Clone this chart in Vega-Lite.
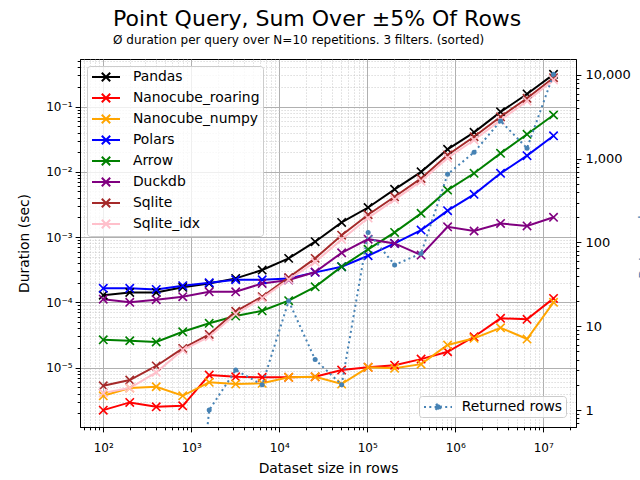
{
  "$schema": "https://vega.github.io/schema/vega-lite/v6.json",
  "autosize": {"type": "none"},
  "width": 496,
  "height": 368,
  "padding": {"left": 80, "top": 59, "right": 64, "bottom": 53},
  "background": "white",
  "title": {
    "text": "Point Query, Sum Over ±5% Of Rows",
    "subtitle": "Ø duration per query over N=10 repetitions. 3 filters. (sorted)",
    "anchor": "start",
    "frame": "group",
    "dx": 33,
    "offset": 8,
    "font": "DejaVu Sans",
    "subtitleFont": "DejaVu Sans",
    "fontSize": 22,
    "subtitleFontSize": 12,
    "fontWeight": "normal",
    "color": "black",
    "subtitleColor": "black",
    "subtitlePadding": 3.5
  },
  "config": {
    "view": {"stroke": "black", "strokeWidth": 1},
    "axis": {
      "labelFont": "DejaVu Sans",
      "titleFont": "DejaVu Sans",
      "labelColor": "black",
      "titleColor": "black",
      "titleFontWeight": "normal",
      "titleFontSize": 13.9,
      "labelFontSize": 12,
      "domainColor": "black",
      "tickColor": "black",
      "tickWidth": 1,
      "labelOverlap": false,
      "labelFlush": false,
      "labelBound": false
    },
    "legend": {
      "labelFont": "DejaVu Sans",
      "labelFontSize": 13.9,
      "labelColor": "black"
    }
  },
  "datasets": {
    "perf": [
      {"n": 100, "lib": "Pandas", "t": 1.29e-4},
      {"n": 200, "lib": "Pandas", "t": 1.42e-4},
      {"n": 400, "lib": "Pandas", "t": 1.42e-4},
      {"n": 800, "lib": "Pandas", "t": 1.70e-4},
      {"n": 1600, "lib": "Pandas", "t": 1.95e-4},
      {"n": 3200, "lib": "Pandas", "t": 2.33e-4},
      {"n": 6400, "lib": "Pandas", "t": 3.13e-4},
      {"n": 12800, "lib": "Pandas", "t": 4.72e-4},
      {"n": 25600, "lib": "Pandas", "t": 8.5e-4},
      {"n": 51200, "lib": "Pandas", "t": 1.68e-3},
      {"n": 102400, "lib": "Pandas", "t": 2.84e-3},
      {"n": 204800, "lib": "Pandas", "t": 5.4e-3},
      {"n": 409600, "lib": "Pandas", "t": 1.0e-2},
      {"n": 819200, "lib": "Pandas", "t": 2.21e-2},
      {"n": 1638400, "lib": "Pandas", "t": 4.03e-2},
      {"n": 3276800, "lib": "Pandas", "t": 8.3e-2},
      {"n": 6553600, "lib": "Pandas", "t": 0.156},
      {"n": 13107200, "lib": "Pandas", "t": 0.312},

      {"n": 100, "lib": "Nanocube_roaring", "t": 2.23e-6},
      {"n": 200, "lib": "Nanocube_roaring", "t": 2.93e-6},
      {"n": 400, "lib": "Nanocube_roaring", "t": 2.51e-6},
      {"n": 800, "lib": "Nanocube_roaring", "t": 2.6e-6},
      {"n": 1600, "lib": "Nanocube_roaring", "t": 7.69e-6},
      {"n": 3200, "lib": "Nanocube_roaring", "t": 7.24e-6},
      {"n": 6400, "lib": "Nanocube_roaring", "t": 7.1e-6},
      {"n": 12800, "lib": "Nanocube_roaring", "t": 7.1e-6},
      {"n": 25600, "lib": "Nanocube_roaring", "t": 7.24e-6},
      {"n": 51200, "lib": "Nanocube_roaring", "t": 9.17e-6},
      {"n": 102400, "lib": "Nanocube_roaring", "t": 1.01e-5},
      {"n": 204800, "lib": "Nanocube_roaring", "t": 1.09e-5},
      {"n": 409600, "lib": "Nanocube_roaring", "t": 1.35e-5},
      {"n": 819200, "lib": "Nanocube_roaring", "t": 1.75e-5},
      {"n": 1638400, "lib": "Nanocube_roaring", "t": 2.97e-5},
      {"n": 3276800, "lib": "Nanocube_roaring", "t": 5.69e-5},
      {"n": 6553600, "lib": "Nanocube_roaring", "t": 5.49e-5},
      {"n": 13107200, "lib": "Nanocube_roaring", "t": 1.15e-4},

      {"n": 100, "lib": "Nanocube_numpy", "t": 3.7e-6},
      {"n": 200, "lib": "Nanocube_numpy", "t": 4.86e-6},
      {"n": 400, "lib": "Nanocube_numpy", "t": 5.09e-6},
      {"n": 800, "lib": "Nanocube_numpy", "t": 3.7e-6},
      {"n": 1600, "lib": "Nanocube_numpy", "t": 5.94e-6},
      {"n": 3200, "lib": "Nanocube_numpy", "t": 5.6e-6},
      {"n": 6400, "lib": "Nanocube_numpy", "t": 5.74e-6},
      {"n": 12800, "lib": "Nanocube_numpy", "t": 7.1e-6},
      {"n": 25600, "lib": "Nanocube_numpy", "t": 7.24e-6},
      {"n": 51200, "lib": "Nanocube_numpy", "t": 5.6e-6},
      {"n": 102400, "lib": "Nanocube_numpy", "t": 1.01e-5},
      {"n": 204800, "lib": "Nanocube_numpy", "t": 9.75e-6},
      {"n": 409600, "lib": "Nanocube_numpy", "t": 1.13e-5},
      {"n": 819200, "lib": "Nanocube_numpy", "t": 2.22e-5},
      {"n": 1638400, "lib": "Nanocube_numpy", "t": 2.81e-5},
      {"n": 3276800, "lib": "Nanocube_numpy", "t": 4.08e-5},
      {"n": 6553600, "lib": "Nanocube_numpy", "t": 2.74e-5},
      {"n": 13107200, "lib": "Nanocube_numpy", "t": 1.0e-4},

      {"n": 100, "lib": "Polars", "t": 1.64e-4},
      {"n": 200, "lib": "Polars", "t": 1.64e-4},
      {"n": 400, "lib": "Polars", "t": 1.58e-4},
      {"n": 800, "lib": "Polars", "t": 1.80e-4},
      {"n": 1600, "lib": "Polars", "t": 2.0e-4},
      {"n": 3200, "lib": "Polars", "t": 2.22e-4},
      {"n": 6400, "lib": "Polars", "t": 2.22e-4},
      {"n": 12800, "lib": "Polars", "t": 2.33e-4},
      {"n": 25600, "lib": "Polars", "t": 2.88e-4},
      {"n": 51200, "lib": "Polars", "t": 3.52e-4},
      {"n": 102400, "lib": "Polars", "t": 5.18e-4},
      {"n": 204800, "lib": "Polars", "t": 8.0e-4},
      {"n": 409600, "lib": "Polars", "t": 1.28e-3},
      {"n": 819200, "lib": "Polars", "t": 2.54e-3},
      {"n": 1638400, "lib": "Polars", "t": 4.52e-3},
      {"n": 3276800, "lib": "Polars", "t": 9.5e-3},
      {"n": 6553600, "lib": "Polars", "t": 1.77e-2},
      {"n": 13107200, "lib": "Polars", "t": 3.57e-2},

      {"n": 100, "lib": "Arrow", "t": 2.67e-5},
      {"n": 200, "lib": "Arrow", "t": 2.58e-5},
      {"n": 400, "lib": "Arrow", "t": 2.47e-5},
      {"n": 800, "lib": "Arrow", "t": 3.54e-5},
      {"n": 1600, "lib": "Arrow", "t": 4.77e-5},
      {"n": 3200, "lib": "Arrow", "t": 6.16e-5},
      {"n": 6400, "lib": "Arrow", "t": 7.43e-5},
      {"n": 12800, "lib": "Arrow", "t": 1.06e-4},
      {"n": 25600, "lib": "Arrow", "t": 1.73e-4},
      {"n": 51200, "lib": "Arrow", "t": 3.52e-4},
      {"n": 102400, "lib": "Arrow", "t": 6.5e-4},
      {"n": 204800, "lib": "Arrow", "t": 1.18e-3},
      {"n": 409600, "lib": "Arrow", "t": 2.31e-3},
      {"n": 819200, "lib": "Arrow", "t": 5.26e-3},
      {"n": 1638400, "lib": "Arrow", "t": 9.5e-3},
      {"n": 3276800, "lib": "Arrow", "t": 1.92e-2},
      {"n": 6553600, "lib": "Arrow", "t": 3.76e-2},
      {"n": 13107200, "lib": "Arrow", "t": 7.43e-2},

      {"n": 100, "lib": "Duckdb", "t": 1.12e-4},
      {"n": 200, "lib": "Duckdb", "t": 1.0e-4},
      {"n": 400, "lib": "Duckdb", "t": 1.1e-4},
      {"n": 800, "lib": "Duckdb", "t": 1.22e-4},
      {"n": 1600, "lib": "Duckdb", "t": 1.45e-4},
      {"n": 3200, "lib": "Duckdb", "t": 1.45e-4},
      {"n": 6400, "lib": "Duckdb", "t": 1.95e-4},
      {"n": 12800, "lib": "Duckdb", "t": 2.2e-4},
      {"n": 25600, "lib": "Duckdb", "t": 2.91e-4},
      {"n": 51200, "lib": "Duckdb", "t": 5.75e-4},
      {"n": 102400, "lib": "Duckdb", "t": 9.3e-4},
      {"n": 204800, "lib": "Duckdb", "t": 8.0e-4},
      {"n": 409600, "lib": "Duckdb", "t": 5.3e-4},
      {"n": 819200, "lib": "Duckdb", "t": 1.44e-3},
      {"n": 1638400, "lib": "Duckdb", "t": 1.24e-3},
      {"n": 3276800, "lib": "Duckdb", "t": 1.62e-3},
      {"n": 6553600, "lib": "Duckdb", "t": 1.48e-3},
      {"n": 13107200, "lib": "Duckdb", "t": 2.01e-3},

      {"n": 100, "lib": "Sqlite", "t": 5.27e-6},
      {"n": 200, "lib": "Sqlite", "t": 6.45e-6},
      {"n": 400, "lib": "Sqlite", "t": 1.06e-5},
      {"n": 800, "lib": "Sqlite", "t": 1.97e-5},
      {"n": 1600, "lib": "Sqlite", "t": 3.23e-5},
      {"n": 3200, "lib": "Sqlite", "t": 7.28e-5},
      {"n": 6400, "lib": "Sqlite", "t": 1.22e-4},
      {"n": 12800, "lib": "Sqlite", "t": 2.4e-4},
      {"n": 25600, "lib": "Sqlite", "t": 4.72e-4},
      {"n": 51200, "lib": "Sqlite", "t": 1.07e-3},
      {"n": 102400, "lib": "Sqlite", "t": 2.2e-3},
      {"n": 204800, "lib": "Sqlite", "t": 4.15e-3},
      {"n": 409600, "lib": "Sqlite", "t": 7.94e-3},
      {"n": 819200, "lib": "Sqlite", "t": 1.81e-2},
      {"n": 1638400, "lib": "Sqlite", "t": 3.45e-2},
      {"n": 3276800, "lib": "Sqlite", "t": 6.98e-2},
      {"n": 6553600, "lib": "Sqlite", "t": 0.134},
      {"n": 13107200, "lib": "Sqlite", "t": 0.277},

      {"n": 100, "lib": "Sqlite_idx", "t": 4.1e-6},
      {"n": 200, "lib": "Sqlite_idx", "t": 4.86e-6},
      {"n": 400, "lib": "Sqlite_idx", "t": 8.46e-6},
      {"n": 800, "lib": "Sqlite_idx", "t": 1.86e-5},
      {"n": 1600, "lib": "Sqlite_idx", "t": 2.97e-5},
      {"n": 3200, "lib": "Sqlite_idx", "t": 6.62e-5},
      {"n": 6400, "lib": "Sqlite_idx", "t": 1.16e-4},
      {"n": 12800, "lib": "Sqlite_idx", "t": 2.24e-4},
      {"n": 25600, "lib": "Sqlite_idx", "t": 4.15e-4},
      {"n": 51200, "lib": "Sqlite_idx", "t": 9.2e-4},
      {"n": 102400, "lib": "Sqlite_idx", "t": 1.96e-3},
      {"n": 204800, "lib": "Sqlite_idx", "t": 3.76e-3},
      {"n": 409600, "lib": "Sqlite_idx", "t": 7.2e-3},
      {"n": 819200, "lib": "Sqlite_idx", "t": 1.63e-2},
      {"n": 1638400, "lib": "Sqlite_idx", "t": 3.07e-2},
      {"n": 3276800, "lib": "Sqlite_idx", "t": 6.2e-2},
      {"n": 6553600, "lib": "Sqlite_idx", "t": 0.122},
      {"n": 13107200, "lib": "Sqlite_idx", "t": 0.255}
    ],
    "rows": [
      {"n": 800, "rows": 0.001, "series": "Returned rows"},
      {"n": 1600, "rows": 1, "series": "Returned rows"},
      {"n": 3200, "rows": 3, "series": "Returned rows"},
      {"n": 6400, "rows": 2, "series": "Returned rows"},
      {"n": 12800, "rows": 20, "series": "Returned rows"},
      {"n": 25600, "rows": 4, "series": "Returned rows"},
      {"n": 51200, "rows": 2, "series": "Returned rows"},
      {"n": 102400, "rows": 132, "series": "Returned rows"},
      {"n": 204800, "rows": 54, "series": "Returned rows"},
      {"n": 409600, "rows": 74, "series": "Returned rows"},
      {"n": 819200, "rows": 652, "series": "Returned rows"},
      {"n": 1638400, "rows": 1194, "series": "Returned rows"},
      {"n": 3276800, "rows": 2824, "series": "Returned rows"},
      {"n": 6553600, "rows": 1333, "series": "Returned rows"},
      {"n": 13107200, "rows": 10190, "series": "Returned rows"}
    ]
  },
  "layer": [
    {
      "data": {"name": "perf"},
      "encoding": {
        "x": {
          "field": "n",
          "type": "quantitative",
          "scale": {"type": "log", "domain": [54.4, 23600000], "nice": false},
          "axis": {
            "title": "Dataset size in rows",
            "titleX": 248,
            "titleY": 45,
            "titleBaseline": "alphabetic",
            "values": [60,70,80,90,100,200,300,400,500,600,700,800,900,1000,2000,3000,4000,5000,6000,7000,8000,9000,10000,20000,30000,40000,50000,60000,70000,80000,90000,100000,200000,300000,400000,500000,600000,700000,800000,900000,1000000,2000000,3000000,4000000,5000000,6000000,7000000,8000000,9000000,10000000,20000000],
            "labelExpr": "abs(log(datum.value)/LN10 - round(log(datum.value)/LN10)) < 0.001 ? '10' + ['⁰','¹','²','³','⁴','⁵','⁶','⁷','⁸','⁹'][round(log(datum.value)/LN10)] : ''",
            "labelPadding": 11,
            "tickSize": {"condition": {"test": "abs(log(datum.value)/LN10 - round(log(datum.value)/LN10)) < 0.001", "value": 4.9}, "value": 2.8},
            "grid": true,
            "gridColor": {"condition": {"test": "abs(log(datum.value)/LN10 - round(log(datum.value)/LN10)) < 0.001", "value": "#b0b0b0"}, "value": "#c0c0c0"},
            "gridDash": {"condition": {"test": "abs(log(datum.value)/LN10 - round(log(datum.value)/LN10)) < 0.001", "value": []}, "value": [1.2, 1.8]},
            "gridWidth": {"condition": {"test": "abs(log(datum.value)/LN10 - round(log(datum.value)/LN10)) < 0.001", "value": 1}, "value": 0.7}
          }
        },
        "y": {
          "field": "t",
          "type": "quantitative",
          "scale": {"type": "log", "domain": [1.23e-6, 0.536], "nice": false},
          "axis": {
            "title": "Duration (sec)",
            "titleX": -49,
            "titleY": 184,
            "values": [2e-6,3e-6,4e-6,5e-6,6e-6,7e-6,8e-6,9e-6,1e-5,2e-5,3e-5,4e-5,5e-5,6e-5,7e-5,8e-5,9e-5,1e-4,2e-4,3e-4,4e-4,5e-4,6e-4,7e-4,8e-4,9e-4,1e-3,2e-3,3e-3,4e-3,5e-3,6e-3,7e-3,8e-3,9e-3,1e-2,2e-2,3e-2,4e-2,5e-2,6e-2,7e-2,8e-2,9e-2,0.1,0.2,0.3,0.4,0.5],
            "labelExpr": "abs(log(datum.value)/LN10 - round(log(datum.value)/LN10)) < 0.001 ? '10⁻' + ['⁰','¹','²','³','⁴','⁵','⁶','⁷','⁸','⁹'][abs(round(log(datum.value)/LN10))] : ''",
            "labelPadding": 3,
            "tickSize": {"condition": {"test": "abs(log(datum.value)/LN10 - round(log(datum.value)/LN10)) < 0.001", "value": 4.9}, "value": 2.8},
            "grid": true,
            "gridColor": {"condition": {"test": "abs(log(datum.value)/LN10 - round(log(datum.value)/LN10)) < 0.001", "value": "#b0b0b0"}, "value": "#c0c0c0"},
            "gridDash": {"condition": {"test": "abs(log(datum.value)/LN10 - round(log(datum.value)/LN10)) < 0.001", "value": []}, "value": [1.2, 1.8]},
            "gridWidth": {"condition": {"test": "abs(log(datum.value)/LN10 - round(log(datum.value)/LN10)) < 0.001", "value": 1}, "value": 0.7}
          }
        },
        "color": {
          "field": "lib",
          "type": "nominal",
          "sort": null,
          "scale": {
            "domain": ["Pandas", "Nanocube_roaring", "Nanocube_numpy", "Polars", "Arrow", "Duckdb", "Sqlite", "Sqlite_idx"],
            "range": ["#000000", "#ff0000", "#ffa500", "#0000ff", "#008000", "#800080", "#a52a2a", "#ffc0cb"]
          },
          "legend": {
            "orient": "none",
            "legendX": 7,
            "legendY": 7,
            "title": null,
            "symbolType": "M-2,0L2,0M-0.6,-0.6L0.6,0.6M-0.6,0.6L0.6,-0.6",
            "symbolSize": 196,
            "symbolOffset": 8,
            "symbolStrokeWidth": 2,
            "labelOffset": 18.9,
            "rowPadding": 3,
            "padding": 3,
            "fillColor": "rgba(255,255,255,0.8)",
            "strokeColor": "#cccccc",
            "cornerRadius": 3
          }
        }
      },
      "layer": [
        {"mark": {"type": "line", "strokeWidth": 2, "clip": true}},
        {"mark": {"type": "point", "shape": "M-1,-1L1,1M-1,1L1,-1", "filled": false, "size": 70, "strokeWidth": 1.6, "opacity": 1, "clip": true}}
      ]
    },
    {
      "data": {"name": "rows"},
      "encoding": {
        "x": {"field": "n", "type": "quantitative"},
        "y": {
          "field": "rows",
          "type": "quantitative",
          "scale": {"type": "log", "domain": [0.627, 15500], "nice": false},
          "axis": {
            "orient": "right",
            "title": "Returned rows",
            "titleColor": "steelblue",
            "titleAngle": 270,
            "titleBaseline": "top",
            "titleAlign": "center",
            "titleX": 61,
            "titleY": 169,
            "titleFontSize": 13.9,
            "values": [0.7,0.8,0.9,1,2,3,4,5,6,7,8,9,10,20,30,40,50,60,70,80,90,100,200,300,400,500,600,700,800,900,1000,2000,3000,4000,5000,6000,7000,8000,9000,10000],
            "labelExpr": "abs(log(datum.value)/LN10 - round(log(datum.value)/LN10)) < 0.001 ? format(datum.value, ',') : ''",
            "labelFontSize": 13,
            "labelPadding": 4,
            "tickSize": {"condition": {"test": "abs(log(datum.value)/LN10 - round(log(datum.value)/LN10)) < 0.001", "value": 4.9}, "value": 2.8},
            "grid": false
          }
        }
      },
      "layer": [
        {
          "mark": {"type": "line", "color": "steelblue", "strokeWidth": 2, "clip": true},
          "encoding": {
            "strokeDash": {
              "field": "series",
              "type": "nominal",
              "scale": {"domain": ["Returned rows"], "range": [[2, 3.3]]},
              "legend": {
                "orient": "none",
                "legendX": 339,
                "legendY": 337,
                "title": null,
                "symbolType": "M-2,0L2,0M0.4,0A0.4,0.4 0 1,1 -0.4,0A0.4,0.4 0 1,1 0.4,0Z",
                "symbolSize": 196,
                "symbolOffset": 8,
                "symbolStrokeWidth": 2,
                "symbolStrokeColor": "steelblue",
                "symbolFillColor": "steelblue",
                "labelOffset": 15.7,
                "padding": 3,
                "fillColor": "rgba(255,255,255,0.8)",
                "strokeColor": "#cccccc",
                "cornerRadius": 3
              }
            }
          }
        },
        {"mark": {"type": "circle", "color": "steelblue", "size": 25, "opacity": 1, "clip": true}}
      ]
    }
  ],
  "resolve": {"scale": {"y": "independent"}}
}
